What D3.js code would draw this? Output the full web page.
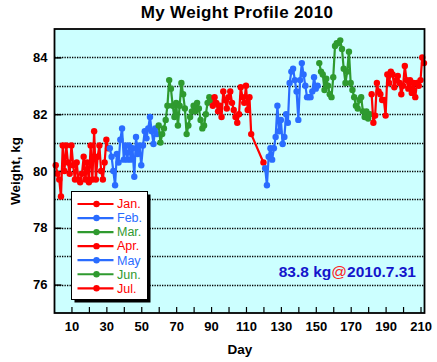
<!DOCTYPE html>
<html><head><meta charset="utf-8">
<script src="https://cdn.jsdelivr.net/npm/d3@7"></script>
<style>
html,body{margin:0;padding:0;background:#fff;}
svg{display:block;font-family:"Liberation Sans",Arial,Helvetica,sans-serif;}
</style>
</head><body>
<svg id="chart" width="437" height="362"></svg>
<script>
// ---------- data ----------
const monthNames = ["Jan.", "Feb.", "Mar.", "Apr.", "May", "Jun.", "Jul."];
const monthStartDay = [1, 32, 60, 91, 121, 152, 182];

const jan = [80.2, 79.9, 79.7, 79.1, 80.9, 80.0, 80.9, 80.3, 79.9, 80.9,
             80.2, 79.7, 80.3, 79.7, 79.6, 79.9, 80.5, 79.7, 80.3, 79.6,
             80.9, 79.7, 81.4, 79.7, 80.5, 80.9, 80.0, 79.7, 80.3, 81.1, 80.8];
const feb = [80.8, 80.5, 80.0, 79.5, 80.6, 80.3, 81.1, 81.5, 80.4, 80.9,
             80.4, 80.9, 80.4, 80.8, 79.8, 81.2, 80.6, 80.9, 80.2, 80.9,
             81.4, 81.15, 81.5, 81.9, 81.4, 80.95, 81.5, 81.3];
const mar = [81.6, 81.0, 81.3, 81.5, 81.8, 82.3, 83.2, 82.9, 82.3, 81.9,
             82.4, 81.6, 82.3, 83.1, 82.7, 82.2, 81.3, 81.6, 81.9, 82.1,
             82.3, 82.1, 82.4, 82.2, 81.8, 81.5, 81.6, 82.0, 82.4, 82.6, 82.5];
const apr = [82.3, 82.6, 82.4, 82.1, 82.3, 81.9, 82.8, 82.5, 82.2, 82.6,
             82.8, 82.4, 82.15, 81.9, 81.7, 82.0, 82.95, 82.6, 82.4, 83.0,
             82.15, 82.6, 81.3, null, null, null, null, null, null, 80.3];
const may = [80.1, 79.5, 80.5, 80.8, 80.4, 80.8, 81.2, 82.3, 81.4, 81.8,
             80.95, 81.2, 82.0, 81.7, 83.1, 83.5, 83.6, 83.2, 82.8, 81.8,
             83.2, 83.8, 83.4, 83.0, 82.6, 82.6, 82.6, 82.8, 83.3, 82.9, 83.0];
const jun = [83.8, 83.5, 83.4, 82.85, 83.25, 83.0, 82.7, 82.6, 83.3, 84.4,
             84.5, 84.5, 84.6, 84.3, 83.6, 83.1, 83.5, 84.2, 83.1, 82.85,
             82.6, 82.3, 82.2, 82.5, 82.6, 82.1, 81.9, 82.1, 81.85, 82.0];
const jul = [82.7, 81.7, 81.95, 83.1, 82.8, 82.7, 82.5, 82.5, 81.95, 83.4,
             83.1, 83.5, 83.4, 82.95, 83.2, 83.35, 83.1, 82.7, 83.0, 83.7,
             83.2, 82.9, 83.2, 82.75, 83.1, 82.6, 83.1, 83.0, 83.2, 84.0, 83.8];
const monthValues = [jan, feb, mar, apr, may, jun, jul];

const yTickValues = [76, 78, 80, 82, 84];
const yGridValues = [76, 77, 78, 79, 80, 81, 82, 83, 84];
const xTickValues = [10, 20, 30, 40, 50, 60, 70, 80, 90, 100, 110, 120, 130, 140, 150, 160, 170, 180, 190, 200, 210];
const xTickLabels = [10, 30, 50, 70, 90, 110, 130, 150, 170, 190, 210];

const titleText = "My Weight Profile 2010";
const xTitle = "Day";
const yTitle = "Weight, kg";
const latestWeight = "83.8 kg";
const latestDate = "2010.7.31";

// ---------- styles ----------
const monthColors = ["#ff0000", "#2a6cff", "#2f9a2f", "#ff0000", "#2a6cff", "#2f9a2f", "#ff0000"];

// ---------- layout ----------
const svg = d3.select("#chart");
const L = 54.5, R = 424.5, T = 29, B = 313;

const x = d3.scaleLinear().domain([0, 212]).range([54, 424]);
const y = d3.scaleLinear().domain([75, 85]).range([B, T]);

// background
svg.append("rect").attr("x", L).attr("y", T).attr("width", R - L).attr("height", B - T)
  .attr("fill", "#ccffff");

// dotted gridlines
svg.append("g").selectAll("line").data(yGridValues).join("line")
  .attr("x1", L).attr("x2", R)
  .attr("y1", d => Math.round(y(d)) + 0.5).attr("y2", d => Math.round(y(d)) + 0.5)
  .attr("stroke", "#000").attr("stroke-width", 1.3).attr("stroke-dasharray", "1.3,1.2");

// y axis (ticks inward)
const yAxis = d3.axisLeft(y).tickValues(yTickValues).tickSize(-7).tickPadding(7)
  .tickFormat(d3.format("d"));
const gy = svg.append("g").attr("transform", `translate(${L},0)`).call(yAxis);
gy.select(".domain").remove();
gy.selectAll(".tick line").attr("stroke", "#000").attr("stroke-width", 1.5);
gy.selectAll(".tick text").attr("font-size", 13).attr("font-weight", "bold")
  .attr("fill", "#000").attr("font-family", "Liberation Sans, Arial, sans-serif");

// x axis (ticks inward)
const xAxis = d3.axisBottom(x).tickValues(xTickValues).tickSize(-6).tickPadding(9)
  .tickFormat(d => xTickLabels.includes(d) ? d : "");
const gx = svg.append("g").attr("transform", `translate(0,${B})`).call(xAxis);
gx.select(".domain").remove();
gx.selectAll(".tick line").attr("stroke", "#000").attr("stroke-width", 1.2);
gx.selectAll(".tick text").attr("font-size", 13).attr("font-weight", "bold")
  .attr("fill", "#000").attr("font-family", "Liberation Sans, Arial, sans-serif");

// series
const line = d3.line().x(d => x(d.day)).y(d => y(d.w));
monthValues.forEach((vals, m) => {
  const pts = vals.map((w, i) => ({ day: monthStartDay[m] + i, w }))
                  .filter(d => d.w !== null);
  const g = svg.append("g");
  g.append("path").datum(pts).attr("d", line).attr("fill", "none")
    .attr("stroke", monthColors[m]).attr("stroke-width", 2.2).attr("stroke-linejoin", "round");
  g.selectAll("circle").data(pts).join("circle")
    .attr("cx", d => x(d.day)).attr("cy", d => y(d.w)).attr("r", 3.2)
    .attr("fill", monthColors[m]);
});

// frame
svg.append("rect").attr("x", L).attr("y", T).attr("width", R - L).attr("height", B - T)
  .attr("fill", "none").attr("stroke", "#000").attr("stroke-width", 1.8);

// title
svg.append("text").attr("x", 237).attr("y", 17.5).attr("text-anchor", "middle")
  .attr("font-size", 17).attr("font-weight", "bold").attr("letter-spacing", 0.35)
  .text(titleText);

// axis titles
svg.append("text").attr("x", 240).attr("y", 353.5).attr("text-anchor", "middle")
  .attr("font-size", 13.5).attr("font-weight", "bold").text(xTitle);
svg.append("text").attr("transform", "translate(20,171) rotate(-90)")
  .attr("text-anchor", "middle").attr("font-size", 13.5).attr("font-weight", "bold")
  .text(yTitle);

// legend
const lg = svg.append("g");
lg.append("rect").attr("x", 74.5).attr("y", 194.5).attr("width", 76).attr("height", 108).attr("fill", "#000");
lg.append("rect").attr("x", 71.5).attr("y", 191.5).attr("width", 76).attr("height", 108)
  .attr("fill", "#fff").attr("stroke", "#000").attr("stroke-width", 1);
const ly = d3.scaleLinear().domain([0, 6]).range([204, 288.3]);
monthNames.forEach((name, i) => {
  const yy = ly(i);
  lg.append("line").attr("x1", 77.5).attr("x2", 113.5).attr("y1", yy).attr("y2", yy)
    .attr("stroke", monthColors[i]).attr("stroke-width", 2.2);
  lg.append("circle").attr("cx", 96.5).attr("cy", yy).attr("r", 3.2).attr("fill", monthColors[i]);
  lg.append("text").attr("x", 117).attr("y", yy + 4.3).attr("font-size", 12.5)
    .attr("fill", monthColors[i]).text(name);
});

// annotation
const ann = svg.append("text").attr("x", 416).attr("y", 276.7).attr("text-anchor", "end")
  .attr("font-size", 15.5);
ann.append("tspan").attr("fill", "#1515cc").attr("font-weight", "bold").text(latestWeight);
ann.append("tspan").attr("fill", "#ff2020").text("@");
ann.append("tspan").attr("fill", "#1515cc").attr("font-weight", "bold").text(latestDate);
</script>
</body></html>
